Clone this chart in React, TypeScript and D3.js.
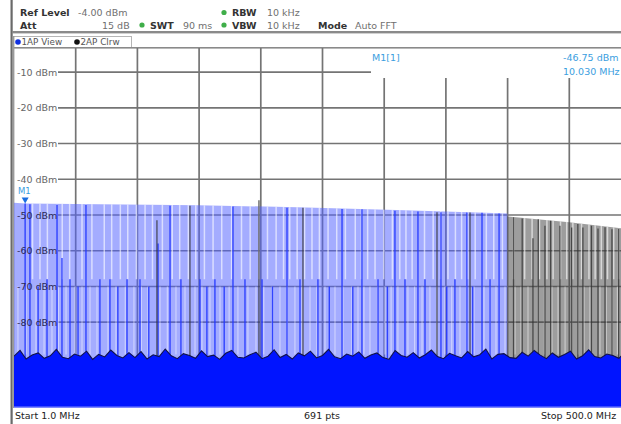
import React from 'react';
import * as d3 from 'd3';

// ---------- data ----------
const START_MHZ = 1;
const STOP_MHZ = 500;
const REF_DBM = -4;
const BOTTOM_DBM = -104;

const yTickDbm = [-10, -20, -30, -40, -50, -60, -70, -80];
const yTickLabels = ['-10 dBm', '-20 dBm', '-30 dBm', '-40 dBm', '-50 dBm', '-60 dBm', '-70 dBm', '-80 dBm'];
const xDivisions = [1, 2, 3, 4, 5, 6, 7, 8, 9];

// upper envelope of trace 1 (View) and trace 2 (Clrw)
const envViewMHz = [1, 10, 70, 150, 230, 310, 395, 400];
const envViewDbm = [-46.6, -46.75, -47.0, -47.3, -47.8, -48.6, -49.5, -49.6];
const envClrwMHz = [400, 450, 492, 500];
const envClrwDbm = [-50.4, -52.0, -53.7, -54.0];

// lighter gaps between sweep points
const upperStripeMHz = [16, 22, 28, 40, 46, 56, 64, 74, 80, 87, 93, 100, 107, 113, 121, 129, 135, 142, 148, 155, 162, 169, 177, 185, 192, 199, 206, 213, 219, 224, 230, 236, 242, 248, 255, 262, 269, 277, 282, 287, 293, 300, 307, 313, 318, 323, 333, 340, 346, 352, 358, 363, 368, 374, 383, 389, 396, 405, 414, 420, 426, 432, 437, 443, 448, 453, 460, 466, 471, 476, 481, 486, 490];
const lowerStripeMHz = [4.2, 10.7, 18.8, 25.3, 31.7, 37, 43.1, 50.3, 56, 62.5, 68.1, 77, 83.5, 91, 98, 104, 109.4, 119.1, 125, 132, 139.3, 147.4, 153, 159.5, 167.6, 175, 182.1, 190.2, 196.7, 203, 209.6, 216.1, 222, 228.2, 234, 240.4, 246, 252.5, 260.6, 267, 274.3, 279.2, 284, 288.9, 295, 301, 306, 311.5, 319.6, 325, 331, 337.4, 343, 349.5, 355, 361.7, 367, 373, 381.1, 386, 390.8, 398.1, 406.2, 411, 416.7, 424.8, 430, 436.1, 441, 446.7, 452, 457.2, 462, 466.8, 474.9, 480, 484.6, 489];

// strong spurs of trace 1 (blue) and trace 2 (dark)
const viewSpikeMHz = [10, 13.9, 20.5, 27.7, 35.8, 39.8, 46.3, 52.8, 59.2, 70.5, 78.6, 85, 92.4, 102.9, 110, 117.5, 127.2, 136, 151.4, 157, 163.5, 171, 178.1, 187.8, 201.6, 210, 221.8, 232.3, 246.8, 256, 266.3, 275, 282.4, 295.4, 303, 309.1, 317.2, 327.7, 333.4, 346.3, 351, 357.6, 367.3, 372, 379.5, 386, 393.3];
const viewSpikeTopDbm = [-46.75, -47, -70, -68, -47.2, -62, -68, -70, -47.2, -68, -68, -70, -68, -68, -70, -58, -47.4, -68, -68, -70, -68, -70, -47.6, -68, -68, -70, -48, -68, -68, -70, -48.3, -70, -48.4, -68, -70, -48.8, -68, -49, -68, -49.2, -70, -68, -49.3, -70, -49.4, -68, -49.6];
const clrwSpikeMHz = [116.6, 143.3, 199.1, 234.7, 343.1, 369.8, 405, 412, 420.7, 425, 430.4, 435, 442.5, 452, 457, 461.1, 468, 473.3, 479, 484.6, 490];
const clrwSpikeTopDbm = [-51.5, -47.4, -45.9, -48, -49.2, -49.3, -50.6, -51, -56.5, -51.2, -53, -51.6, -53, -53.5, -52.5, -53.5, -53, -53.8, -53.4, -54, -53.8];

// noise floor (evenly spaced across the span)
const noiseFloorDbm = [
  -89.5, -87.9, -90.3, -89.2, -88.6, -90.1, -89.4, -87.6, -89.8, -90.2,
  -88.9, -89.5, -88.1, -90.4, -89.0, -89.7, -87.8, -89.3, -90.0, -88.5,
  -89.9, -88.2, -90.3, -89.1, -89.6, -87.5, -89.4, -90.2, -88.8, -89.3,
  -90.1, -88.0, -89.6, -89.2, -90.4, -88.7, -87.9, -89.8, -90.0, -89.1,
  -88.4, -90.2, -89.5, -87.7, -89.9, -89.0, -90.3, -88.6, -89.4, -88.1,
  -90.0, -89.3, -87.6, -89.7, -90.2, -88.9, -89.5, -88.3, -90.1, -89.2,
  -88.6, -89.9, -90.4, -87.9, -89.3, -89.8, -88.5, -90.0, -89.1, -87.8,
  -89.6, -90.2, -88.7, -89.4, -90.0, -88.2, -89.7, -89.1, -87.5, -90.3,
  -89.0, -88.8, -89.9, -90.1, -88.4, -89.5, -87.9, -89.2, -90.2, -88.6,
  -89.8, -89.0, -88.1, -90.3, -89.4, -87.7, -89.6, -90.0, -88.9, -89.3,
  -90.1, -88.5, -89.4,
];

const markerMHz = 10.03;
const markerDbm = -46.75;

// ---------- component ----------
export default function App() {
  const W = 621, H = 424;
  const x = d3.scaleLinear().domain([START_MHZ, STOP_MHZ]).range([14, 631]);
  const y = d3.scaleLinear().domain([BOTTOM_DBM, REF_DBM]).range([408, 50.6]);
  const divX = d3.scaleLinear().domain([0, 10]).range([START_MHZ, STOP_MHZ]);
  const noiseIdx = d3.scaleLinear().domain([0, noiseFloorDbm.length - 1]).range([START_MHZ, STOP_MHZ]);

  const bandArea = d3.area<[number, number]>()
    .x(d => x(d[0]))
    .y0(y(-95))
    .y1(d => y(d[1]));
  const viewPts: [number, number][] = envViewMHz.map((f, i) => [f, envViewDbm[i]]);
  const clrwPts: [number, number][] = envClrwMHz.map((f, i) => [f, envClrwDbm[i]]);
  const viewPath = bandArea(viewPts) || '';
  const clrwPath = bandArea(clrwPts) || '';

  const noisePts: [number, number][] = noiseFloorDbm.map((v, i) => [noiseIdx(i), v]);
  const solidArea = d3.area<[number, number]>()
    .x(d => x(d[0]))
    .y0(408)
    .y1(d => y(d[1]));
  const noiseLine = d3.line<[number, number]>().x(d => x(d[0])).y(d => y(d[1]));

  const font = 'DejaVu Sans, Verdana, sans-serif';
  const grey = '#6f6f6f';
  const gridColor = '#747474';
  const mkBlue = '#3b9ee0';

  const markerBoxX = 371;

  return (
    <svg width={W} height={H} style={{ position: 'absolute', left: 0, top: 0, background: '#fff' }} fontFamily={font}>
      <defs>
        <clipPath id="plotClip">
          <rect x={14} y={48} width={W - 14} height={360} />
        </clipPath>
        <clipPath id="bandClip">
          <path d={viewPath} />
          <path d={clrwPath} />
        </clipPath>
      </defs>

      {/* header */}
      <g fontSize={9.5}>
        <text x={20} y={16} fontWeight="bold" fill="#333">Ref Level</text>
        <text x={78} y={16} fill={grey}>-4.00 dBm</text>
        <circle cx={224} cy={12.5} r={2.6} fill="#3fae49" />
        <text x={232} y={16} fontWeight="bold" fill="#333">RBW</text>
        <text x={267} y={16} fill={grey}>10 kHz</text>

        <text x={20} y={28.5} fontWeight="bold" fill="#333">Att</text>
        <text x={102} y={28.5} fill={grey}>15 dB</text>
        <circle cx={142} cy={25} r={2.6} fill="#3fae49" />
        <text x={150} y={28.5} fontWeight="bold" fill="#333">SWT</text>
        <text x={183} y={28.5} fill={grey}>90 ms</text>
        <circle cx={224} cy={25} r={2.6} fill="#3fae49" />
        <text x={232} y={28.5} fontWeight="bold" fill="#333">VBW</text>
        <text x={267} y={28.5} fill={grey}>10 kHz</text>
        <text x={318} y={28.5} fontWeight="bold" fill="#333">Mode</text>
        <text x={355} y={28.5} fill={grey}>Auto FFT</text>
      </g>

      {/* frame */}
      <rect x={10.5} y={0} width={2.2} height={H} fill="#6a6a6a" />
      <rect x={12} y={31} width={W - 12} height={2.4} fill="#8a8a8a" />
      <rect x={13.5} y={36.5} width={118} height={11} fill="#fff" stroke="#b5b5b5" strokeWidth={1} />
      <circle cx={18} cy={42} r={2.8} fill="#1030e0" />
      <text x={21.5} y={45.3} fontSize={8.8} fill="#555">1AP View</text>
      <circle cx={77} cy={42} r={2.8} fill="#111" />
      <text x={80.5} y={45.3} fontSize={8.8} fill="#555">2AP Clrw</text>
      <rect x={13} y={47} width={W - 13} height={1.6} fill="#8a8a8a" />
      <rect x={13} y={36} width={1.4} height={372} fill="#9a9a9a" />

      <g clipPath="url(#plotClip)">
        {/* grid */}
        {yTickDbm.map((v, i) => (
          <line key={'h' + i} x1={58} x2={i === 0 ? markerBoxX : W} y1={y(v)} y2={y(v)} stroke={gridColor} strokeWidth={1.7} />
        ))}
        {xDivisions.map(k => {
          const xx = x(divX(k));
          return (
            <line key={'v' + k} x1={xx} x2={xx} y1={xx > markerBoxX ? 78 : 48} y2={408} stroke={gridColor} strokeWidth={1.7} />
          );
        })}

        {/* trace bands */}
        <path d={viewPath} fill="#5060ff" fillOpacity={0.52} />
        <path d={clrwPath} fill="#444" fillOpacity={0.52} />

        <g clipPath="url(#bandClip)">
          {upperStripeMHz.map((f, i) => (
            <line key={'us' + i} x1={x(f)} x2={x(f)} y1={y(-44)} y2={y(-68)} stroke="#fff" strokeWidth={1.5} strokeOpacity={0.6} />
          ))}
          {lowerStripeMHz.map((f, i) => (
            <line key={'ls' + i} x1={x(f)} x2={x(f)} y1={y(-70)} y2={y(-89)} stroke="#fff" strokeWidth={1.2} strokeOpacity={0.45} />
          ))}
        </g>

        {viewSpikeMHz.map((f, i) => (
          <line key={'vs' + i} x1={x(f)} x2={x(f)} y1={y(viewSpikeTopDbm[i])} y2={y(-90)} stroke="#2236ff" strokeWidth={1.4} strokeOpacity={0.9} />
        ))}
        {clrwSpikeMHz.map((f, i) => (
          <line key={'cs' + i} x1={x(f)} x2={x(f)} y1={y(clrwSpikeTopDbm[i])} y2={y(-90)} stroke="#333" strokeWidth={1.3} strokeOpacity={0.8} />
        ))}

        {/* noise floor */}
        <path d={solidArea(noisePts) || ''} fill="#0014ff" />
        <path d={noiseLine(noisePts) || ''} fill="none" stroke="#10124a" strokeWidth={1.1} />
        <rect x={14} y={406.5} width={W - 14} height={1.5} fill="#7f88ff" />
      </g>

      {/* y labels */}
      <g fontSize={9.5}>
        {yTickDbm.map((v, i) => (
          <text key={'yl' + i} x={17} y={y(v) + 3.5} fill={i < 4 ? '#666' : '#2a2a55'}>{yTickLabels[i]}</text>
        ))}
      </g>

      {/* marker info */}
      <rect x={markerBoxX} y={49} width={W - markerBoxX} height={28} fill="#fff" />
      <text x={372} y={61} fontSize={9.5} fill={mkBlue}>M1[1]</text>
      <text x={563} y={61} fontSize={9.5} fill={mkBlue}>{markerDbm.toFixed(2)} dBm</text>
      <text x={563} y={74.5} fontSize={9.5} fill={mkBlue}>{markerMHz.toFixed(3)} MHz</text>

      {/* marker symbol */}
      <text x={18} y={193.5} fontSize={8.5} fill={mkBlue}>M1</text>
      <path d={`M${x(markerMHz) - 3.5},${y(markerDbm) - 6} L${x(markerMHz) + 3.5},${y(markerDbm) - 6} L${x(markerMHz)},${y(markerDbm)} Z`} fill="#1a6ee0" />

      {/* footer */}
      <g fontSize={9.5} fill="#222">
        <text x={15} y={418.5}>Start {START_MHZ.toFixed(1)} MHz</text>
        <text x={322} y={418.5} textAnchor="middle">691 pts</text>
        <text x={541} y={418.5}>Stop {STOP_MHZ.toFixed(1)} MHz</text>
      </g>
    </svg>
  );
}
